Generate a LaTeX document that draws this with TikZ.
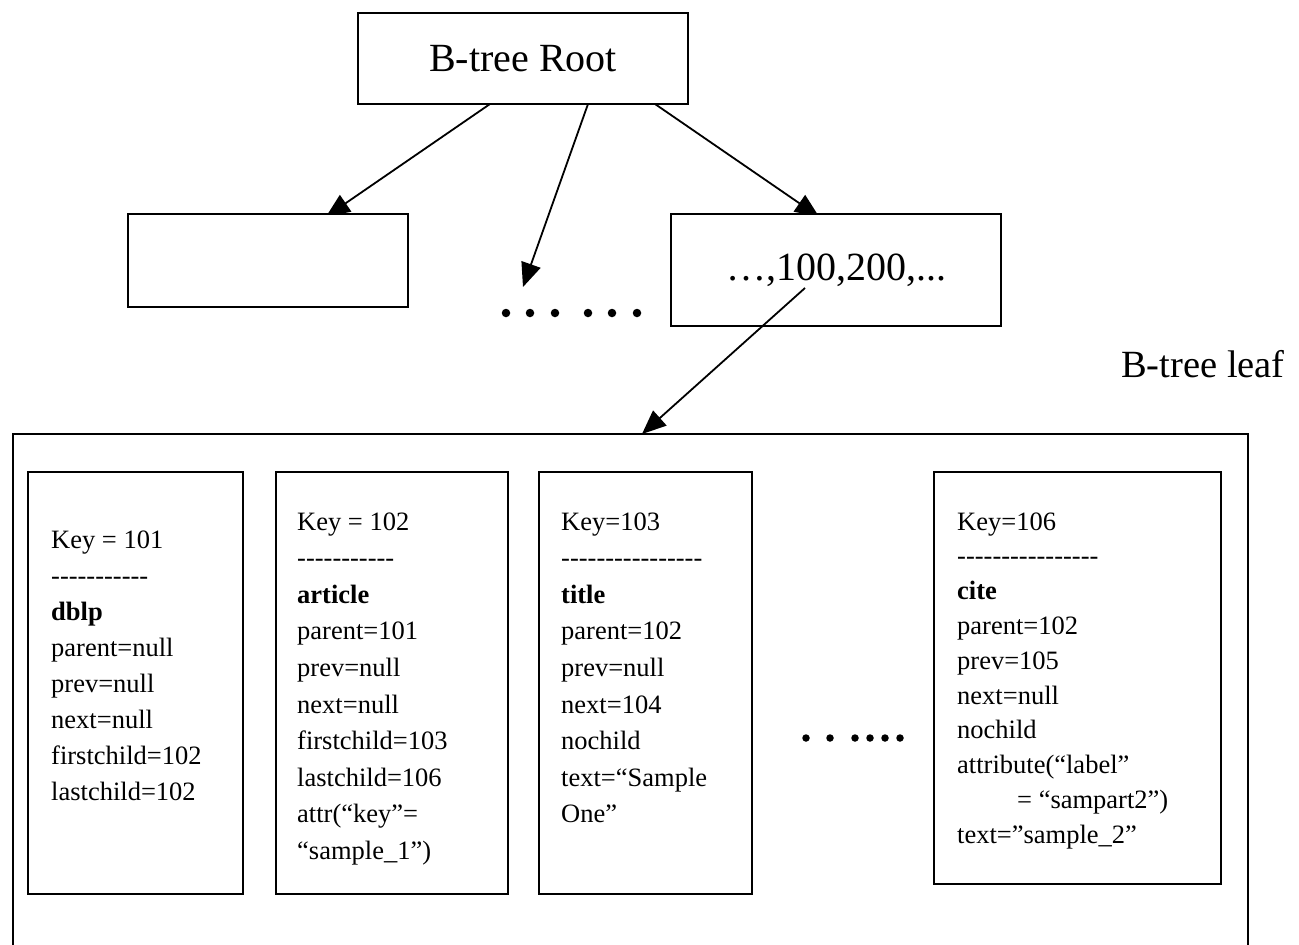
\documentclass[tikz,border=0pt]{standalone}
\usepackage{fontspec}
\setmainfont{Liberation Serif}[Ligatures=TeXOff]
\usetikzlibrary{arrows.meta,backgrounds}
\begin{document}
\begin{tikzpicture}[x=1pt,y=-1pt,
  box/.style={draw, line width=2.2pt, fill=white, inner sep=0pt},
  conn/.style={line width=1.8pt, -{Triangle[length=24pt,width=20pt]}},
  big/.style={font=\fontsize{40}{48}\selectfont},
  rec/.style={anchor=base west, inner sep=0pt},
  dot/.style={circle, fill=black, inner sep=0pt, minimum size=#1},
  dot/.default=8.5pt]
\useasboundingbox (0,0) rectangle (1299,945);
\clip (0,0) rectangle (1299,945);

% upper B-tree
\node[box, minimum width=330pt, minimum height=91pt, big] (root) at (523,58.5) {B-tree Root};
\node[box, minimum width=280pt, minimum height=93pt] (lchild) at (268,260.5) {};
\node[box, minimum width=330pt, minimum height=112pt, big] (rchild) at (836,270) {…,100,200,...};

\coordinate (r1) at (490,104);
\coordinate (r2) at (588,104);
\coordinate (r3) at (655,104);
\coordinate (lt) at (330,214);
\coordinate (rt) at (815,214);
\coordinate (mid) at (523,287);
\coordinate (s100) at (805,288);
\coordinate (lf) at (642,434);

\begin{scope}[on background layer]
  \draw[conn, shorten >=-5pt] (r1) -- (lt);
  \draw[conn, shorten >=-5pt] (r3) -- (rt);
\end{scope}
\draw[conn] (r2) -- (mid);

\foreach \x [count=\i] in {506,530,555,588,612,637}
  \node[dot] (ud\i) at (\x,313) {};

\node[font=\fontsize{38.5}{46}\selectfont, anchor=base west, inner sep=0pt] (leaflabel) at (1121,377) {B-tree leaf};

% leaf
\node[box, minimum width=1235pt, minimum height=531pt] (leaf) at (630.5,699.5) {};
\draw[conn] (s100) -- (lf);

\node[box, minimum width=215pt, minimum height=422pt] (k101) at (135.5,683) {};
\node[box, minimum width=232pt, minimum height=422pt] (k102) at (392,683) {};
\node[box, minimum width=213pt, minimum height=422pt] (k103) at (645.5,683) {};
\node[box, minimum width=287pt, minimum height=412pt] (k106) at (1077.5,678) {};

\node[rec, font=\fontsize{26.5}{36}\selectfont] (t101) at (51,548) {\begin{tabular}[t]{@{}l@{}}Key = 101\\-----------\\\textbf{dblp}\\parent=null\\prev=null\\next=null\\firstchild=102\\lastchild=102\end{tabular}};

\node[rec, font=\fontsize{26.5}{36.6}\selectfont] (t102) at (297,530) {\begin{tabular}[t]{@{}l@{}}Key = 102\\-----------\\\textbf{article}\\parent=101\\prev=null\\next=null\\firstchild=103\\lastchild=106\\attr(“key”=\\“sample\_1”)\end{tabular}};

\node[rec, font=\fontsize{26.5}{36.6}\selectfont] (t103) at (561,530) {\begin{tabular}[t]{@{}l@{}}Key=103\\----------------\\\textbf{title}\\parent=102\\prev=null\\next=104\\nochild\\text=“Sample\\One”\end{tabular}};

\node[rec, font=\fontsize{26.5}{34.8}\selectfont] (t106) at (957,530) {\begin{tabular}[t]{@{}l@{}}Key=106\\----------------\\\textbf{cite}\\parent=102\\prev=105\\next=null\\nochild\\attribute(“label”\\\hspace*{60pt}= “sampart2”)\\text=”sample\_2”\end{tabular}};

\foreach \x [count=\i] in {806,830,855,870,885,900}
  \node[dot=7.5pt] (ld\i) at (\x,738) {};
\end{tikzpicture}
\end{document}
